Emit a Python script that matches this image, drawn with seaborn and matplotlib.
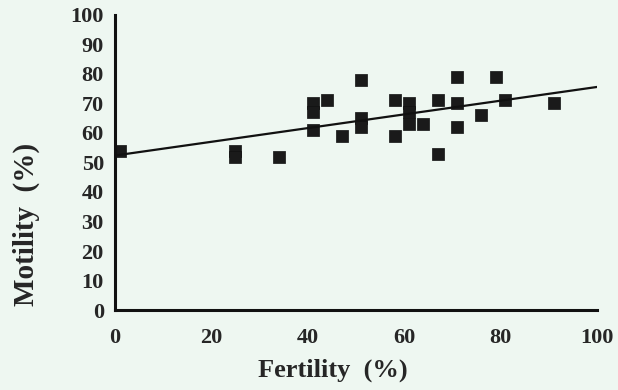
import numpy as np
import pandas as pd
import matplotlib
matplotlib.use("Agg")
import matplotlib.pyplot as plt
import seaborn as sns
from matplotlib.ticker import MultipleLocator

# values
fertility = [1, 25, 25, 34, 41, 41, 41, 44, 47, 51, 51, 51, 58, 58, 61, 61, 61,
             64, 67, 67, 71, 71, 71, 76, 79, 81, 91]
motility = [54, 54, 52, 52, 70, 67, 61, 71, 59, 78, 65, 62, 71, 59, 70, 67, 63,
            63, 71, 53, 79, 70, 62, 66, 79, 71, 70]

x_ticks = [0, 20, 40, 60, 80, 100]
y_ticks = list(range(0, 101, 10))

df = pd.DataFrame({"Fertility": fertility, "Motility": motility})

sns.set_style("white")
plt.rcParams["font.family"] = ["Liberation Serif", "DejaVu Serif"]
plt.rcParams["font.weight"] = "bold"

bg = "#eef7f1"
fig = plt.figure(figsize=(6.18, 3.9), dpi=100, facecolor=bg)
ax = fig.add_axes([0.186, 0.205, 0.78, 0.757])
ax.set_facecolor(bg)
ax.set_xlim(0, 100)
ax.set_ylim(0, 100)

sns.regplot(data=df, x="Fertility", y="Motility", ax=ax, ci=None, truncate=False,
            marker="s", color="#1a1a1a",
            scatter_kws={"s": 68, "edgecolor": "#111111", "linewidths": 0.5, "alpha": 1},
            line_kws={"color": "#111111", "lw": 1.6})

ax.set_xlim(0, 100)
ax.set_ylim(0, 100)
ax.set_xticks(x_ticks)
ax.set_yticks(y_ticks)
ax.xaxis.set_minor_locator(MultipleLocator(10))
ax.yaxis.set_minor_locator(MultipleLocator(5))

for side in ["top", "right"]:
    ax.spines[side].set_visible(False)
for side in ["left", "bottom"]:
    ax.spines[side].set_linewidth(2.2)
    ax.spines[side].set_color("#111111")

ax.tick_params(which="major", direction="out", length=6, width=1.8, color="#111111",
               labelsize=16, pad=2)
ax.tick_params(which="minor", direction="out", length=3.5, width=1.6, color="#111111")
ax.tick_params(axis="x", pad=7)
for lab in ax.get_xticklabels() + ax.get_yticklabels():
    lab.set_fontweight("bold")

ax.set_xlabel("Fertility  (%)", fontsize=19, fontweight="bold")
ax.set_ylabel("Motility  (%)", fontsize=21, fontweight="bold")
ax.xaxis.set_label_coords(0.452, -0.163)
ax.yaxis.set_label_coords(-0.155, 0.29)

fig.savefig("out.png", dpi=100, facecolor=bg)
